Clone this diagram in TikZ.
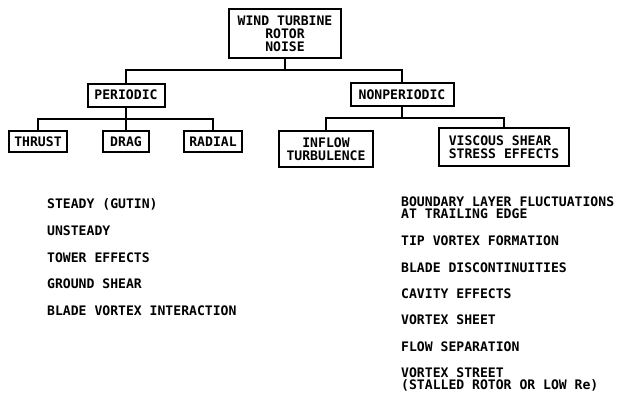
\documentclass[tikz,border=0pt]{standalone}
\usepackage{fontspec}
\setmonofont{DejaVu Sans Mono}
\begin{document}
\begin{tikzpicture}[x=1pt, y=-1pt,
  box/.style={draw, line width=2pt, inner sep=0pt, align=center,
    font=\ttfamily\bfseries\fontsize{13.1}{13}\selectfont},
  item/.style={anchor=base west, inner sep=0pt, align=left,
    font=\ttfamily\bfseries\fontsize{13.1}{12}\selectfont},
  link/.style={line width=1.6pt}]
\useasboundingbox (0,0) rectangle (617,394);
\node[box, minimum width=112pt, minimum height=49pt] (rotor) at (285,33.5) {WIND TURBINE\\ROTOR\\NOISE};
\node[box, minimum width=77pt, minimum height=23pt] (periodic) at (126,95) {PERIODIC};
\node[box, minimum width=103pt, minimum height=23pt] (nonperiodic) at (402,94.5) {NONPERIODIC};
\node[box, minimum width=58pt, minimum height=21pt] (thrust) at (38,141.5) {THRUST};
\node[box, minimum width=46pt, minimum height=21pt] (drag) at (126,141.5) {DRAG};
\node[box, minimum width=58pt, minimum height=21pt] (radial) at (213,141.5) {RADIAL};
\node[box, minimum width=94pt, minimum height=36pt] (inflow) at (326,149) {INFLOW\\TURBULENCE};
\node[box, align=left, minimum width=130pt, minimum height=38pt] (viscous) at (504,147) {VISCOUS SHEAR\\STRESS EFFECTS};
\coordinate (topbus) at (285,70);
\coordinate (pbus) at (126,119);
\coordinate (nbus) at (402,118);
\draw[link] (rotor.south) -- (topbus);
\draw[link] (periodic.north) |- (topbus) -| (nonperiodic.north);
\draw[link] (periodic.south) -- (drag.north);
\draw[link] (thrust.north) |- (pbus) -| (radial.north);
\draw[link] (nonperiodic.south) -- (nbus);
\draw[link] (inflow.north) |- (nbus) -| (viscous.north);
\foreach \txt [count=\i] in {STEADY (GUTIN), UNSTEADY, TOWER EFFECTS, GROUND SHEAR, BLADE VORTEX INTERACTION}
  \node[item] (per\i) at (47,181.75+26.75*\i) {\txt};
\foreach \y/\txt [count=\i] in {218.5/{BOUNDARY LAYER FLUCTUATIONS\\AT TRAILING EDGE}, 245.5/TIP VORTEX FORMATION,
    272/BLADE DISCONTINUITIES, 298.5/CAVITY EFFECTS, 324.5/VORTEX SHEET, 351/FLOW SEPARATION,
    389.5/{VORTEX STREET\\(STALLED ROTOR OR LOW Re)}}
  \node[item] (nper\i) at (401,\y) {\txt};
\end{tikzpicture}
\end{document}
